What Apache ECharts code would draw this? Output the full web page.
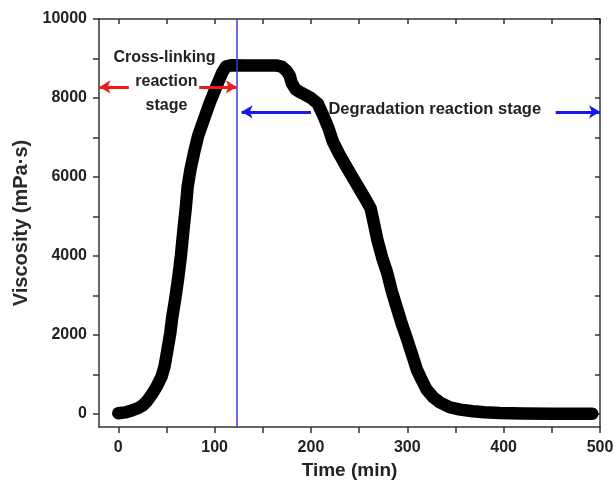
<!DOCTYPE html>
<html>
<head>
<meta charset="utf-8">
<script src="https://cdn.jsdelivr.net/npm/echarts@6/dist/echarts.min.js"></script>
<style>
  html, body { margin: 0; padding: 0; background: #fff; }
  #chart { width: 616px; height: 481px; }
</style>
</head>
<body>
<div id="chart"></div>
<script>
// Rheology run: viscosity of the gel versus shearing time
const timeMin = [0, 7, 14, 20, 25, 30, 35, 40, 45, 48, 51, 54, 56, 59, 62, 65, 68, 70, 72, 75,
  79, 83, 88, 95, 102, 108, 112, 118, 130, 150, 165, 170, 175, 178, 180, 184, 190, 200, 207,
  212, 218, 223, 230, 237, 244, 251, 257, 262, 266, 269, 274, 279, 284, 289, 294, 299, 305,
  310, 315, 320, 327, 334, 344, 355, 368, 380, 396, 420, 450, 470, 492];
const viscosity = [20, 40, 90, 140, 210, 330, 500, 700, 950, 1200, 1620, 2050, 2450, 2900, 3400,
  4000, 4750, 5200, 5750, 6200, 6650, 7050, 7400, 7880, 8300, 8650, 8800, 8830, 8820, 8820,
  8820, 8790, 8680, 8560, 8380, 8220, 8130, 8000, 7860, 7600, 7250, 6880, 6550, 6250, 5960,
  5670, 5420, 5200, 4750, 4400, 3950, 3580, 3100, 2700, 2300, 1950, 1500, 1120, 860, 620,
  420, 290, 170, 110, 70, 45, 25, 10, 5, 5, 5];

// Axis ticks and labels
const xTicks = [0, 50, 100, 150, 200, 250, 300, 350, 400, 450, 500];
const xLabels = [0, 100, 200, 300, 400, 500];
const yTicks = [0, 1000, 2000, 3000, 4000, 5000, 6000, 7000, 8000, 9000, 10000];
const yLabels = [0, 2000, 4000, 6000, 8000, 10000];

// Boundary between the two reaction stages (min)
const stageBoundary = 123;

const FONT = '"Liberation Sans", Arial, sans-serif';
const AXIS_COLOR = '#333';
const RED = '#f01c1c';
const BLUE = '#1a1ae6';

const curve = timeMin.map((t, i) => [t, viscosity[i]]);

const baseX = {
  type: 'value', min: -20, max: 500,
  splitLine: { show: false },
  axisLine: { onZero: false, lineStyle: { color: AXIS_COLOR, width: 1.5 } }
};
const baseY = {
  type: 'value', min: -330, max: 10000,
  splitLine: { show: false },
  axisLine: { onZero: false, lineStyle: { color: AXIS_COLOR, width: 1.5 } }
};

function label(text, t, v, size) {
  return { name: text, coord: [t, v], label: { fontSize: size } };
}

// Horizontal arrow from tail to tip at a given viscosity level
function arrow(fromT, toT, v, color) {
  return [
    { coord: [fromT, v], symbol: 'none', lineStyle: { color: color, width: 3, type: 'solid' } },
    { coord: [toT, v], symbol: 'arrow', symbolSize: [10, 11] }
  ];
}

const option = {
  animation: false,
  backgroundColor: '#fff',
  textStyle: { fontFamily: FONT },
  grid: { left: 99, right: 16, top: 19, bottom: 54, containLabel: false, outerBoundsMode: 'none' },
  xAxis: [
    Object.assign({}, baseX, {
      position: 'bottom',
      name: 'Time (min)', nameLocation: 'middle', nameGap: 34,
      nameTextStyle: { fontSize: 19, fontWeight: 'bold', color: '#222', fontFamily: FONT },
      axisTick: { show: true, inside: false, length: 6, customValues: xTicks,
        lineStyle: { color: AXIS_COLOR, width: 1.5 } },
      axisLabel: { show: true, customValues: xLabels, margin: 13, fontSize: 16,
        fontWeight: 'bold', color: '#222', fontFamily: FONT, formatter: v => String(v) }
    }),
    Object.assign({}, baseX, {
      position: 'top',
      axisTick: { show: true, inside: true, length: 5, customValues: xTicks,
        lineStyle: { color: AXIS_COLOR, width: 1.5 } },
      axisLabel: { show: false }
    })
  ],
  yAxis: [
    Object.assign({}, baseY, {
      position: 'left',
      name: 'Viscosity (mPa·s)', nameLocation: 'middle', nameGap: 67,
      nameTextStyle: { fontSize: 20, fontWeight: 'bold', color: '#2a2a2a', fontFamily: FONT },
      axisTick: { show: true, inside: false, length: 6, customValues: yTicks,
        lineStyle: { color: AXIS_COLOR, width: 1.5 } },
      axisLabel: { show: true, customValues: yLabels, margin: 12, fontSize: 16,
        fontWeight: 'bold', color: '#222', fontFamily: FONT, formatter: v => String(v) }
    }),
    Object.assign({}, baseY, {
      position: 'right',
      axisTick: { show: true, inside: true, length: 5, customValues: yTicks,
        lineStyle: { color: AXIS_COLOR, width: 1.5 } },
      axisLabel: { show: false }
    })
  ],
  series: [{
    type: 'line',
    xAxisIndex: 0, yAxisIndex: 0,
    data: curve,
    showSymbol: false,
    symbol: 'none',
    lineStyle: { color: '#000', width: 12.5, cap: 'round', join: 'round' },
    markLine: {
      silent: true,
      symbol: 'none',
      label: { show: false },
      data: [
        [{ coord: [stageBoundary, -330], symbol: 'none',
           lineStyle: { color: '#3d3dd6', width: 1.5, type: 'solid' } },
         { coord: [stageBoundary, 10000], symbol: 'none' }],
        arrow(11, -19.5, 8280, RED),
        arrow(84, stageBoundary, 8280, RED),
        arrow(200, 128, 7650, BLUE),
        arrow(454, 500, 7650, BLUE)
      ]
    },
    markPoint: {
      silent: true,
      symbol: 'rect',
      symbolSize: 1,
      itemStyle: { color: 'rgba(0,0,0,0)' },
      label: {
        show: true, position: 'inside', formatter: p => p.name,
        color: '#222', fontWeight: 'bold', fontFamily: FONT
      },
      data: [
        label('Cross-linking', 48, 9030, 16),
        label('reaction', 50, 8420, 16),
        label('stage', 50, 7800, 16),
        label('Degradation reaction stage', 328.5, 7710, 16.5)
      ]
    }
  }]
};

const chart = echarts.init(document.getElementById('chart'), null, { renderer: 'canvas' });
chart.setOption(option);
</script>
</body>
</html>
